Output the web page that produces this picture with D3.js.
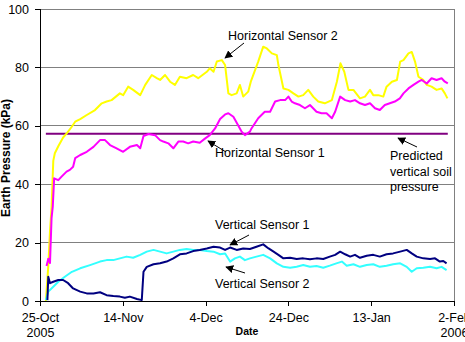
<!DOCTYPE html>
<html>
<head>
<meta charset="utf-8">
<script src="https://cdn.jsdelivr.net/npm/d3@7"></script>
<style>
  body { margin: 0; background: #fff; }
  text { font-family: "Liberation Sans", Arial, sans-serif; }
</style>
</head>
<body>
<div id="chart"></div>
<script>
// Days since 25-Oct-2005, earth pressure in kPa
const tickLabels = ['25-Oct|2005', '14-Nov', '4-Dec', '24-Dec', '13-Jan', '2-Feb|2006'];
const tickDays = [0, 20, 40, 60, 80, 100];
const yTicks = [0, 20, 40, 60, 80, 100];

const horizontal2 = [[1.4,0],[2.0,12],[2.4,24],[2.8,32],[3.2,48],[3.6,50.6],[4.4,53],[5.6,56],[6.5,57.5],[7.6,59.5],[8.5,61.4],
  [9.7,62.3],[11.3,63.7],[13.3,65.4],[14.9,67.7],[16.1,68.3],[17.3,68.8],[19.3,71.1],[20.1,70.5],[21.3,73.4],
  [22.5,72.3],[24.2,70.5],[25.4,74],[27,77.4],[28.2,76.3],[29,75.7],[30.2,77.4],[31.4,75.1],[32.6,74],[33.8,76.8],
  [35.4,76.3],[37,77.4],[38.2,76.3],[40.3,78.5],[41,79.7],[41.9,78.5],[42.7,82],[43.9,82.5],[44.7,80.8],[45.5,71.1],
  [46.3,70.5],[47.5,71.1],[48.3,74],[49.1,70],[50.3,71.7],[50.9,75.1],[52.7,82],[53.9,87.1],[54.8,86.5],[56,84.8],
  [57.2,84.2],[57.6,80.8],[58.8,72.8],[60,72.3],[61.2,71.1],[62.4,70],[63.6,70.5],[64.8,72.3],[66,70],[67.2,68.3],
  [68.8,67.7],[70.5,68.8],[71.7,75.1],[72.6,81.4],[73.5,78.5],[74.5,72.3],[75.7,72.3],[77.3,69.4],[78.5,70],
  [79.7,72.3],[80.5,70.5],[81.7,70.5],[82.9,70],[83.7,73.4],[85,75.1],[86.2,75.7],[87,82],[87.8,82.5],[89,84.8],
  [89.8,85.3],[90.6,82],[91.4,76.8],[92.6,75.7],[93.4,74],[94.6,73.4],[95.8,72.3],[97,72.8],[97.8,71.1],[98.4,69.4]];

const horizontal1 = [[1.6,12],[2.0,14.5],[2.4,13],[2.8,28.4],[3.1,32.3],[3.4,42],[4.4,41.4],[5.2,42.6],[6.4,44.3],
  [7.2,44.9],[8,46],[8.5,48.9],[9.7,50],[11.3,51.1],[12.9,52.8],[14.5,55.1],[15.7,55.1],[16.9,53.4],[18.5,52.3],
  [20.1,51.1],[21.7,52.8],[23.4,53.4],[24.2,52.3],[25,56.5],[26.2,57.2],[27.8,56.8],[29,55.1],[29.8,54.6],[31,54],
  [32.2,52.3],[33.4,54.6],[34.6,54.6],[35.8,54],[37,54.6],[38.6,54.2],[39.9,55.7],[41,56.8],[42.3,59.1],[43.5,62.3],
  [44.7,63.9],[45.5,64.3],[46.7,63.1],[47.9,60],[48.7,58],[49.5,56.8],[50.7,58],[51.1,59.1],[52.7,62.6],[54.3,64.8],
  [55.6,64.8],[56.8,68.3],[58,68.8],[59.2,68.8],[60,70],[60.8,68.3],[61.6,67.7],[62.8,67.1],[64,66],[65.2,67.1],
  [66.8,64.8],[68,64.3],[69.2,64.3],[70.5,62.6],[71.3,64.8],[72.5,70],[73.7,68.8],[74.9,68.3],[76.1,68.8],[77.3,67.7],
  [78.5,67.1],[79.7,67.7],[80.9,66],[82.1,65.4],[83.3,67.1],[84.5,67.7],[85.7,68.3],[86.9,69.4],[87.8,71.1],[89,72.8],
  [90.2,74],[91.4,75.1],[92.2,75.7],[93.4,74.5],[94.6,76.3],[95.8,75.7],[97,76.3],[97.8,75.1],[98.5,74.5]];

const vertical1 = [[1.8,0.3],[2.0,8.3],[2.4,6.1],[3.2,6.6],[4.4,7.2],[5.6,7.2],[6.8,6.1],[8,4.3],[9.7,3.2],[11.3,2.6],
  [12.9,2.6],[14.5,3],[16.1,2],[17.7,1.7],[19.3,1.5],[20.5,1.1],[21.7,1.5],[23.4,0.7],[24.6,0.3],[25,10],[25.8,11.7],
  [27.4,12.6],[29,12.9],[30.6,13.5],[32.2,14.6],[33.8,16],[35.4,16.3],[37,17.1],[38.6,17.5],[40.3,18],[41.9,18.6],
  [43.5,18.3],[44.7,17.5],[45.9,18.3],[47.5,17.5],[49.1,18],[50.7,17.8],[52.3,18.6],[53.9,19.4],[55.2,18],[56.4,16.9],
  [57.6,15.8],[58.8,14.6],[60.4,14.8],[62,14.4],[63.6,14.6],[65.2,14.3],[66.8,14.6],[68.4,14.4],[70,15.2],[71.3,15.8],
  [72.5,16.9],[73.7,16],[74.9,15.2],[76.1,15.8],[77.3,14.8],[78.9,15.5],[80.5,15.8],[82.1,15.2],[83.7,16],[85.3,16.3],
  [87,16.9],[88.6,17.5],[89.8,16.3],[91,15.2],[92.6,14.6],[94.2,14.4],[95.4,14.6],[96.6,13.5],[97.4,13.7],[98.2,12.9]];

const vertical2 = [[1.4,0.3],[2,3.2],[3.2,4.9],[4.4,6.6],[6,8.3],[7.7,10],[9.7,11.2],[12.1,12.3],[14.5,13.5],[16.1,14],
  [17.7,14],[19.3,14.6],[20.9,15.2],[22.5,14.8],[24.2,15.8],[25.8,16.9],[27.4,17.5],[29,16.9],[30.6,16.3],[32.2,16.9],
  [33.8,17.5],[35.4,17.8],[37,17.5],[38.6,17.5],[40.3,17.1],[41.9,16.9],[43.5,16],[44.7,16.3],[45.9,13.5],[47.1,14.6],
  [48.3,15.2],[49.5,14],[50.7,14.6],[52.3,15.2],[53.9,15.8],[55.6,14.6],[57.2,12.9],[58.8,11.7],[60.4,11.4],[62,11.7],
  [63.6,12.3],[65.2,11.7],[66.8,12],[68.4,11.4],[70,12.1],[71.6,12.9],[72.9,13.5],[74.1,12.1],[75.7,12.6],[77.3,11.7],
  [78.9,12.3],[80.5,12.6],[82.1,11.7],[83.7,12.1],[85.3,12.6],[87,12.9],[88.6,11.7],[89.8,10],[91,11.2],[92.6,11.4],
  [94.2,11.7],[95.8,11.2],[97,11.7],[98.2,10.6]];

const predictedDays = [1.4, 98.5];
const predictedValue = 57.3;

const seriesList = [
  {name: 'predicted', data: predictedDays.map(d => [d, predictedValue]), color: '#800080', width: 2},
  {name: 'Horizontal Sensor 2', data: horizontal2, color: '#ffff00', width: 2},
  {name: 'Horizontal Sensor 1', data: horizontal1, color: '#ff00ff', width: 2},
  {name: 'Vertical Sensor 2', data: vertical2, color: '#33ffff', width: 2},
  {name: 'Vertical Sensor 1', data: vertical1, color: '#000080', width: 2}
];

const W = 465, H = 342;
const margin = {top: 9, right: 11, bottom: 41, left: 40};
const start = new Date(2005, 9, 25);
const toDate = d => d3.timeHour.offset(start, Math.round(d * 24));

const svg = d3.select('#chart').append('svg')
  .attr('width', W).attr('height', H);

const x = d3.scaleTime()
  .domain([start, toDate(100)])
  .range([margin.left, W - margin.right]);
const y = d3.scaleLinear()
  .domain([0, 100])
  .range([H - margin.bottom, margin.top]);

// Gridlines
svg.append('g').selectAll('line')
  .data(yTicks.filter(v => v > 0))
  .join('line')
  .attr('x1', x.range()[0]).attr('x2', x.range()[1])
  .attr('y1', d => y(d)).attr('y2', d => y(d))
  .attr('stroke', '#808080').attr('stroke-width', 1).attr('shape-rendering', 'crispEdges');

// Right border
svg.append('line')
  .attr('x1', x.range()[1]).attr('x2', x.range()[1])
  .attr('y1', y(0)).attr('y2', y(100))
  .attr('stroke', '#808080').attr('shape-rendering', 'crispEdges');

// Series
const line = d3.line().x(d => x(toDate(d[0]))).y(d => y(d[1]));
svg.append('g').selectAll('path')
  .data(seriesList)
  .join('path')
  .attr('d', s => line(s.data))
  .attr('fill', 'none')
  .attr('stroke', s => s.color)
  .attr('stroke-width', s => s.width)
  .attr('stroke-linejoin', 'round');

// Axes
const yAxis = svg.append('g')
  .attr('transform', `translate(${margin.left},0)`)
  .call(d3.axisLeft(y).tickValues(yTicks).tickSize(5).tickPadding(6));
const xAxis = svg.append('g')
  .attr('transform', `translate(0,${y(0)})`)
  .call(d3.axisBottom(x).tickValues(tickDays.map(toDate)).tickSize(5).tickPadding(7)
    .tickFormat((d, i) => tickLabels[i]));

[xAxis, yAxis].forEach(a => {
  a.select('.domain').attr('stroke', '#000').attr('shape-rendering', 'crispEdges');
  a.selectAll('.tick line').attr('stroke', '#000').attr('shape-rendering', 'crispEdges');
  a.selectAll('text').attr('font-size', 12.5).attr('fill', '#000')
    .attr('font-family', '"Liberation Sans", Arial, sans-serif');
});
yAxis.select('.domain').attr('d', `M-5,${y(100)}H0V${y(0)}H-5`);
xAxis.select('.domain').attr('d', `M${x.range()[0]},5V0H${x.range()[1]}V5`);

// Two-line tick labels
xAxis.selectAll('.tick text').each(function(d, i) {
  const parts = tickLabels[i].split('|');
  const t = d3.select(this).text(null);
  parts.forEach((p, k) => t.append('tspan').attr('x', 0).attr('dy', k === 0 ? '0.71em' : '1.2em').text(p));
});

// Axis titles
svg.append('text')
  .attr('x', 247).attr('y', 335)
  .attr('text-anchor', 'middle')
  .attr('font-size', 10.5).attr('font-weight', 'bold')
  .text('Date');
svg.append('text')
  .attr('transform', 'translate(10,158) rotate(-90)')
  .attr('text-anchor', 'middle')
  .attr('font-size', 12).attr('font-weight', 'bold')
  .text('Earth Pressure (kPa)');

// Annotations
const defs = svg.append('defs');
defs.append('marker')
  .attr('id', 'arrow')
  .attr('viewBox', '0 0 10 10')
  .attr('refX', 9).attr('refY', 5)
  .attr('markerWidth', 8).attr('markerHeight', 8)
  .attr('markerUnits', 'userSpaceOnUse')
  .attr('orient', 'auto')
  .append('path').attr('d', 'M0,0L10,5L0,10Z').attr('fill', '#000');

const notes = [
  {lines: ['Horizontal Sensor 2'], tx: 228, ty: 40, from: [244, 43], to: [225, 58]},
  {lines: ['Horizontal Sensor 1'], tx: 215, ty: 157, from: [226, 152], to: [208, 141]},
  {lines: ['Predicted', 'vertical soil', 'pressure'], tx: 390, ty: 160, from: [417, 147], to: [398, 138]},
  {lines: ['Vertical Sensor 1'], tx: 215, ty: 229, from: [249, 235], to: [230, 245]},
  {lines: ['Vertical Sensor 2'], tx: 215, ty: 288, from: [245, 273], to: [226, 267]}
];

const ng = svg.append('g');
notes.forEach(n => {
  ng.append('line')
    .attr('x1', n.from[0]).attr('y1', n.from[1])
    .attr('x2', n.to[0]).attr('y2', n.to[1])
    .attr('stroke', '#000').attr('stroke-width', 1)
    .attr('marker-end', 'url(#arrow)');
  const t = ng.append('text').attr('x', n.tx).attr('y', n.ty).attr('font-size', 12.5);
  n.lines.forEach((l, k) => t.append('tspan').attr('x', n.tx).attr('dy', k === 0 ? 0 : 15.5).text(l));
});
</script>
</body>
</html>
